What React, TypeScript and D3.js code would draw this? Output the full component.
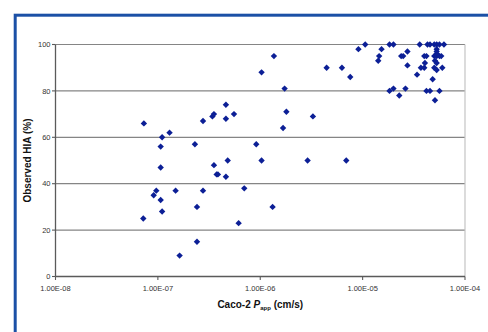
import React from "react";
import * as d3 from "d3";

const pappValues: number[] = [
  7.3e-8, 7.2e-8, 9.1e-8, 9.65e-8, 1.065e-7, 1.065e-7, 1.065e-7, 1.1e-7, 1.1e-7, 1.3e-7,
  1.49e-7, 1.63e-7, 2.3e-7, 2.41e-7, 2.41e-7, 2.76e-7, 2.76e-7, 3.41e-7, 3.53e-7, 3.53e-7,
  3.75e-7, 3.86e-7, 4.62e-7, 4.62e-7, 4.62e-7, 4.81e-7, 5.54e-7, 6.15e-7, 6.98e-7, 9.14e-7,
  1.03e-6, 1.03e-6, 1.32e-6, 1.36e-6, 1.67e-6, 1.73e-6, 1.8e-6, 2.9e-6, 3.27e-6, 4.45e-6,
  6.28e-6, 6.92e-6, 7.57e-6, 9.1e-6, 1.06e-5, 1.42e-5, 1.45e-5, 1.53e-5, 1.83e-5, 1.83e-5,
  2.0e-5, 2.0e-5, 2.28e-5, 2.38e-5, 2.49e-5, 2.62e-5, 2.74e-5, 2.74e-5, 3.4e-5, 3.61e-5,
  3.71e-5, 4.0e-5, 4.0e-5, 4.06e-5, 4.2e-5, 4.2e-5, 4.3e-5, 4.55e-5, 4.55e-5, 4.83e-5,
  5.01e-5, 5.01e-5, 5.01e-5, 5.09e-5, 5.09e-5, 5.29e-5, 5.29e-5, 5.29e-5, 5.29e-5, 5.29e-5,
  5.29e-5, 5.29e-5, 5.63e-5, 5.63e-5, 5.63e-5, 5.86e-5, 6.0e-5, 6.23e-5,
];

const hiaValues: number[] = [
  66, 25, 35, 37, 56, 47, 33, 28, 60, 62,
  37, 9, 57, 30, 15, 67, 37, 69, 70, 48,
  44, 44, 74, 68, 43, 50, 70, 23, 38, 57,
  88, 50, 30, 95, 64, 81, 71, 50, 69, 90,
  90, 50, 86, 98, 100, 93, 95, 98, 100, 80,
  100, 81, 78, 95, 95, 81, 97, 91, 87, 100,
  90, 95, 90, 92, 95, 80, 100, 100, 80, 85,
  100, 95, 90, 93, 76, 100, 98, 97, 96, 95,
  92, 89, 100, 95, 80, 95, 90, 100,
];

const xTicks: number[] = [1e-8, 1e-7, 1e-6, 1e-5, 1e-4];
const xTickLabels: string[] = ["1.00E-08", "1.00E-07", "1.00E-06", "1.00E-05", "1.00E-04"];
const yTicks: number[] = [0, 20, 40, 60, 80, 100];

const FONT = "Arial, 'Liberation Sans', Helvetica, sans-serif";

export default function App() {
  const W = 488;
  const H = 332;
  const left = 55.5;
  const right = 465;
  const top = 44.5;
  const bottom = 276.5;

  const x = d3.scaleLog().domain([1e-8, 1e-4]).range([left, right]);
  const y = d3.scaleLinear().domain([0, 100]).range([bottom, top]);

  const diamond: d3.SymbolType = {
    draw(context, size) {
      const r = Math.sqrt(size / 2);
      context.moveTo(0, -r);
      context.lineTo(r, 0);
      context.lineTo(0, r);
      context.lineTo(-r, 0);
      context.closePath();
    },
  };
  const sym = d3.symbol().type(diamond).size(2 * 3.2 * 3.2)();

  const points = pappValues.map((p, i) => ({ p, h: hiaValues[i] }));

  return (
    <svg
      width={W}
      height={H}
      style={{ position: "absolute", left: 0, top: 0, background: "#fff" }}
    >
      <rect x={0} y={0} width={W} height={H} fill="#fff" />
      {/* blue frame */}
      <rect
        x={15.2}
        y={15.2}
        width={W + 20}
        height={H + 20}
        fill="none"
        stroke="#1b50a6"
        strokeWidth={3}
      />
      {/* gridlines */}
      {yTicks
        .filter((t) => t > 0)
        .map((t) => (
          <line
            key={"g" + t}
            x1={left}
            x2={right}
            y1={y(t)}
            y2={y(t)}
            stroke="#858585"
            strokeWidth={1.2}
          />
        ))}
      {/* right border */}
      <line x1={right} x2={right} y1={top} y2={bottom} stroke="#c4c4c4" strokeWidth={1.2} />
      {/* y axis */}
      <line x1={left} x2={left} y1={top} y2={bottom} stroke="#5a5a5a" strokeWidth={1.3} />
      {yTicks.map((t) => (
        <g key={"yt" + t}>
          <line x1={left - 3.5} x2={left} y1={y(t)} y2={y(t)} stroke="#5a5a5a" strokeWidth={1.1} />
          <text
            x={left - 5}
            y={y(t)}
            dy="0.35em"
            textAnchor="end"
            fontFamily={FONT}
            fontSize={7.5}
            fill="#333"
          >
            {t}
          </text>
        </g>
      ))}
      {/* x axis */}
      <line x1={left} x2={right} y1={bottom} y2={bottom} stroke="#5a5a5a" strokeWidth={1.3} />
      {xTicks.map((t, i) => (
        <g key={"xt" + i}>
          <line x1={x(t)} x2={x(t)} y1={bottom} y2={bottom + 3.5} stroke="#5a5a5a" strokeWidth={1.1} />
          <text
            x={x(t)}
            y={bottom + 12}
            dy="0.35em"
            textAnchor="middle"
            fontFamily={FONT}
            fontSize={7.5}
            fill="#333"
          >
            {xTickLabels[i]}
          </text>
        </g>
      ))}
      {/* points */}
      {points.map((d, i) => (
        <path
          key={"p" + i}
          d={sym || ""}
          transform={`translate(${x(d.p)},${y(d.h)})`}
          fill="#0c1f96"
        />
      ))}
      {/* axis titles */}
      <text
        x={(left + right) / 2}
        y={304}
        dy="0.35em"
        textAnchor="middle"
        fontFamily={FONT}
        fontSize={10}
        fontWeight="bold"
        fill="#111"
      >
        Caco-2{" "}
        <tspan fontStyle="italic">P</tspan>
        <tspan fontSize={6} dy="2">app</tspan>
        <tspan dy="-2"> (cm/s)</tspan>
      </text>
      <text
        transform={`translate(27,${(top + bottom) / 2}) rotate(-90)`}
        textAnchor="middle"
        dy="0.35em"
        fontFamily={FONT}
        fontSize={10}
        fontWeight="bold"
        fill="#111"
      >
        Observed HIA (%)
      </text>
    </svg>
  );
}
